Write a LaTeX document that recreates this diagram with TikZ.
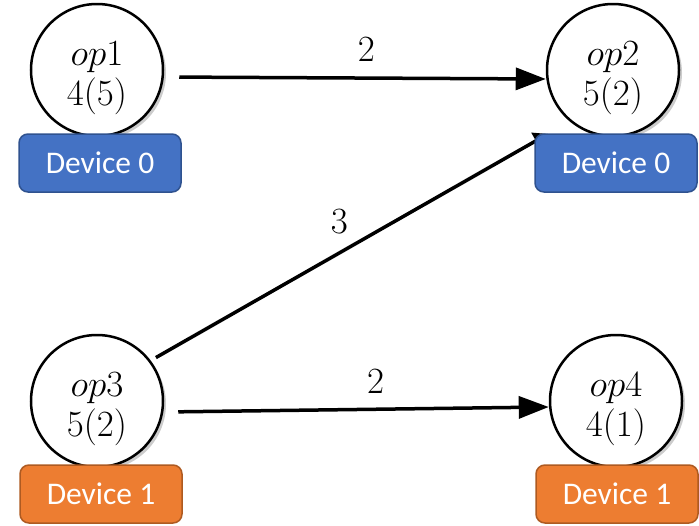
\RequirePackage{fix-cm}
\documentclass[tikz,border=0pt]{standalone}
\usepackage{amsmath}
\usepackage{fontspec}
\setsansfont{Carlito}
\usepackage{tikz}
\usetikzlibrary{arrows.meta,shadows}

\definecolor{devblue}{HTML}{4472C4}
\definecolor{devblueline}{HTML}{2F528F}
\definecolor{devorange}{HTML}{ED7D31}
\definecolor{devorangeline}{HTML}{AE5A21}

\newcommand{\optext}[2]{\rule{0pt}{40pt}$#1$\\$#2$}

\begin{document}
\begin{tikzpicture}[x=1pt, y=-1pt]
    \tikzstyle{op} = [circle, draw=black, line width=2.5pt, fill=white, minimum size=132pt, inner sep=0pt, align=center, font=\fontsize{37}{40}\selectfont, drop shadow={shadow xshift=3pt, shadow yshift=-3pt, opacity=0.4}]
    \tikzstyle{device} = [rectangle, rounded corners=9pt, line width=1.5pt, minimum width=162pt, minimum height=58pt, text=white, font=\sffamily\fontsize{31.5}{33}\selectfont]
    \tikzstyle{dev0} = [device, fill=devblue, draw=devblueline]
    \tikzstyle{dev1} = [device, fill=devorange, draw=devorangeline]
    \tikzstyle{arrow} = [-{Triangle[length=30pt, width=22pt]}, line width=3.5pt]
    \tikzstyle{cost} = [inner sep=0pt, font=\fontsize{37}{40}\selectfont]
    \useasboundingbox (0,0) rectangle (699,525);

    \node[op] (op1) at (97, 70) {\optext{op1}{4(5)}};
    \node[op] (op2) at (613, 70) {\optext{op2}{5(2)}};
    \node[op] (op3) at (97, 401) {\optext{op3}{5(2)}};
    \node[op] (op4) at (616, 401) {\optext{op4}{4(1)}};

    \draw[arrow, shorten <=15pt] ([yshift=-7pt]op1.east) -- node[cost, pos=0.53, above=15pt] {$2$} ([yshift=-9pt]op2.west);
    \draw[arrow, shorten <=14pt] ([yshift=-11pt]op3.east) -- node[cost, pos=0.55, above=14pt] {$2$} ([yshift=-6pt]op4.west);
    % head ends under the device box
    \draw[arrow, -{Triangle[length=14pt, width=18pt]}, shorten <=6pt, shorten >=25pt] (op3.37) -- node[cost, pos=0.45, above=18pt] {$3$} (op2.230);

    \node[dev0] (d1) at (100, 163) {Device 0};
    \node[dev0] (d2) at (616, 163) {Device 0};
    \node[dev1] (d3) at (101, 494) {Device 1};
    \node[dev1] (d4) at (617, 494) {Device 1};
\end{tikzpicture}
\end{document}
